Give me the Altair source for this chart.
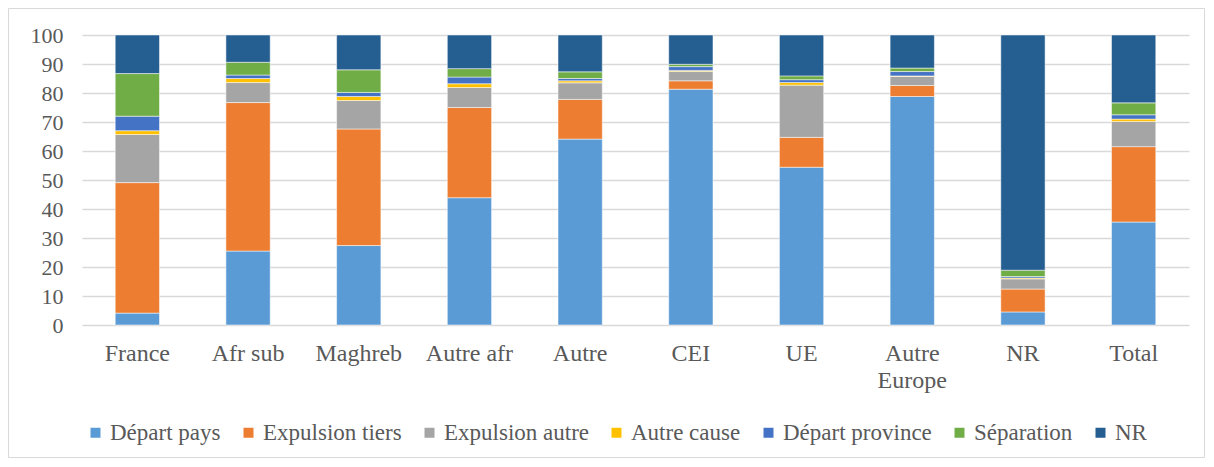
import altair as alt
import pandas as pd

categories = ["France", "Afr sub", "Maghreb", "Autre afr", "Autre", "CEI", "UE", "Autre Europe", "NR", "Total"]
series = ["Départ pays", "Expulsion tiers", "Expulsion autre", "Autre cause", "Départ province", "Séparation", "NR"]
colors = ["#5B9BD5", "#ED7D31", "#A5A5A5", "#FFC000", "#4472C4", "#70AD47", "#255E91"]

depart_pays      = [4.1, 25.5, 27.4, 43.9, 64.1, 81.3, 54.4, 78.8, 4.5, 35.5]
expulsion_tiers  = [45.0, 51.2, 40.2, 31.1, 13.7, 2.9, 10.3, 3.8, 7.9, 26.0]
expulsion_autre  = [16.6, 6.9, 9.8, 6.9, 5.7, 3.2, 18.0, 3.1, 3.5, 8.7]
autre_cause      = [1.3, 1.4, 1.4, 1.3, 0.7, 0.4, 0.9, 0.2, 0.3, 0.8]
depart_province  = [5.0, 1.2, 1.4, 2.3, 0.8, 1.3, 1.0, 1.5, 0.5, 1.5]
separation       = [14.7, 4.4, 7.8, 2.9, 2.3, 0.8, 1.3, 1.2, 2.2, 4.1]
nr               = [13.3, 9.4, 12.0, 11.6, 12.7, 10.1, 14.1, 11.4, 81.1, 23.4]

values = [depart_pays, expulsion_tiers, expulsion_autre, autre_cause, depart_province, separation, nr]
rows = []
for si, (s, vals) in enumerate(zip(series, values)):
    for c, v in zip(categories, vals):
        rows.append({"cat": c, "serie": s, "val": v, "ord": si})
df = pd.DataFrame(rows)

FONT = "'Liberation Serif', 'Times New Roman', serif"
W, H = 1107, 290
PL, PT, PR, PB = 74, 27, 16, 133

bars = alt.Chart(df).mark_bar(stroke="white", strokeWidth=0.5).encode(
    x=alt.X("cat:N", sort=categories, title=None,
            scale=alt.Scale(paddingInner=0.6, paddingOuter=0.3),
            axis=alt.Axis(labelAngle=0, labelFontSize=24, labelColor="#595959",
                          ticks=False, domain=False, labelPadding=16, labelLineHeight=27,
                          labelExpr="datum.label == 'Autre Europe' ? ['Autre', 'Europe'] : datum.label")),
    y=alt.Y("val:Q", stack="zero", title=None,
            scale=alt.Scale(domain=[0, 100]),
            axis=alt.Axis(values=list(range(0, 101, 10)), labelFontSize=22,
                          labelColor="#595959", ticks=False, domain=False, labelPadding=19,
                          gridColor="#D9D9D9", gridWidth=1.5)),
    color=alt.Color("serie:N", sort=series,
                    scale=alt.Scale(domain=series, range=colors),
                    legend=alt.Legend(title=None, orient="none", legendX=2, legendY=386,
                                      direction="horizontal", padding=0,
                                      symbolType="square", symbolSize=100, symbolStrokeWidth=0,
                                      labelFontSize=23, labelColor="#595959",
                                      columnPadding=16, labelOffset=3)),
    order=alt.Order("ord:Q", sort="ascending"),
)

border = alt.Chart(pd.DataFrame({"a": [0]})).mark_rect(fillOpacity=0, stroke="#D9D9D9", strokeWidth=1).encode(
    x=alt.value(-PL + 0.5), x2=alt.value(W + PR - 0.5),
    y=alt.value(-PT + 0.5), y2=alt.value(H + PB - 0.5),
)

chart = alt.layer(border, bars).properties(
    width=W, height=H,
    autosize=alt.AutoSizeParams(type="none"),
    padding={"left": PL, "top": PT, "right": PR, "bottom": PB},
).configure(background="white", font=FONT).configure_view(stroke=None).configure_legend(
    labelFont=FONT
).configure_axis(labelFont=FONT)

chart.save("out.html", embed_options={"renderer": "svg", "actions": False})
